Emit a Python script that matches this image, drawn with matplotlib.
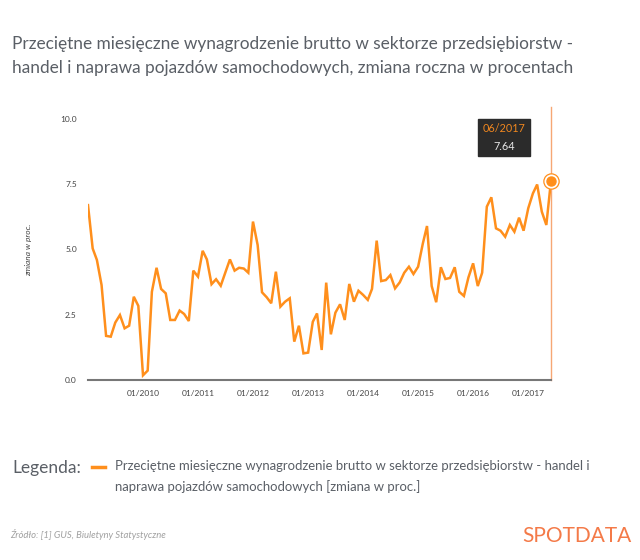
import matplotlib
matplotlib.use('Agg')
import matplotlib.pyplot as plt
import matplotlib.dates as mdates
from matplotlib.lines import Line2D
from matplotlib.offsetbox import TextArea, VPacker, AnnotationBbox
import pandas as pd

#### DATA
start_month = '2009-01-01'
values = [6.70, 5.04, 4.60, 3.64, 1.69, 1.66, 2.20, 2.49, 1.98, 2.08, 3.19, 2.84,
          0.18, 0.36, 3.38, 4.30, 3.49, 3.32, 2.30, 2.30, 2.66, 2.53, 2.26, 4.19,
          3.96, 4.95, 4.62, 3.67, 3.86, 3.61, 4.11, 4.62, 4.19, 4.30, 4.27, 4.11,
          6.07, 5.17, 3.36, 3.17, 2.94, 4.15, 2.81, 3.00, 3.13, 1.47, 2.08, 1.02,
          1.05, 2.23, 2.55, 1.15, 3.73, 1.75, 2.58, 2.90, 2.30, 3.68, 3.00, 3.42,
          3.26, 3.07, 3.49, 5.34, 3.79, 3.83, 4.02, 3.51, 3.74, 4.11, 4.34, 4.06,
          4.34, 5.22, 5.90, 3.60, 2.98, 4.32, 3.87, 3.91, 4.32, 3.38, 3.22, 3.93,
          4.47, 3.60, 4.11, 6.64, 7.00, 5.81, 5.72, 5.49, 5.94, 5.68, 6.22, 5.72,
          6.58, 7.15, 7.49, 6.45, 5.94, 7.64]
y_ticks = [0.0, 2.5, 5.0, 7.5, 10.0]
x_tick_years = [2010, 2011, 2012, 2013, 2014, 2015, 2016, 2017]

title = ('Przeciętne miesięczne wynagrodzenie brutto w sektorze przedsiębiorstw -\n'
         'handel i naprawa pojazdów samochodowych, zmiana roczna w procentach')
legend_text = ('Przeciętne miesięczne wynagrodzenie brutto w sektorze przedsiębiorstw - handel i\n'
               'naprawa pojazdów samochodowych [zmiana w proc.]')
source_text = 'Źródło: [1] GUS, Biuletyny Statystyczne'

dates = pd.date_range(start_month, periods=len(values), freq='MS')

ORANGE = '#ff8f1c'
GREY_TXT = '#5a5f66'

plt.rcParams['font.family'] = ['Lato', 'DejaVu Sans']

fig = plt.figure(figsize=(6.4, 5.6), dpi=100)
ax = fig.add_axes([88 / 640, 1 - 380 / 560, 463 / 640, 261 / 560])

ax.plot(dates, values, color=ORANGE, lw=1.8, solid_joinstyle='miter')

# highlighted last point (hover state)
last_d, last_v = dates[-1], values[-1]
ax.axvline(last_d, ymin=0, ymax=1.046, color='#f6a774', lw=1, clip_on=False, zorder=1)
ax.plot([last_d], [last_v], 'o', ms=11, mfc='white', mec=ORANGE, mew=0.9, clip_on=False, zorder=4)
ax.plot([last_d], [last_v], 'o', ms=6.5, color=ORANGE, clip_on=False, zorder=5)

# tooltip: date in orange, value in light grey, dark box
tip = VPacker(children=[TextArea(last_d.strftime('%m/%Y'),
                                 textprops=dict(color='#f0871f', fontsize=7.8)),
                        TextArea('{:.2f}'.format(last_v),
                                 textprops=dict(color='#e6e6e6', fontsize=7.8))],
              align='center', pad=0, sep=5)
ab = AnnotationBbox(tip, (last_d, last_v), xybox=(-47, 43), boxcoords='offset pixels',
                    frameon=True, pad=0.5, annotation_clip=False,
                    bboxprops=dict(boxstyle='square', fc='#2b2b2b', ec='#2b2b2b'))
ax.add_artist(ab)

ax.set_xlim(dates[0], dates[-1])
ax.set_ylim(0, 10)
ax.set_yticks(y_ticks)
ax.set_yticklabels(['{:.1f}'.format(t) for t in y_ticks])
ax.set_xticks([pd.Timestamp(year=y, month=1, day=1) for y in x_tick_years])
ax.xaxis.set_major_formatter(mdates.DateFormatter('%m/%Y'))
ax.tick_params(axis='both', length=0, labelsize=6, labelcolor='#444444')
ax.tick_params(axis='y', pad=8)
ax.tick_params(axis='x', pad=7)

for s in ['top', 'right', 'left']:
    ax.spines[s].set_visible(False)
ax.spines['bottom'].set_color('#777777')
ax.spines['bottom'].set_linewidth(1.5)

ax.set_ylabel('zmiana w proc.', fontsize=6, style='italic', color='#444444')
ax.yaxis.set_label_coords(-0.12, 0.5)

# title
fig.text(12 / 640, 1 - 36 / 560, title, fontsize=12.4, color=GREY_TXT,
         va='top', ha='left', linespacing=1.65)

# legend
fig.text(12 / 640, 1 - 468 / 560, 'Legenda:', fontsize=12.5, color=GREY_TXT, va='center')
fig.add_artist(Line2D([92 / 640, 105 / 640], [1 - 467 / 560, 1 - 467 / 560],
                      color=ORANGE, lw=2.5))
fig.text(115 / 640, 1 - 460 / 560, legend_text, fontsize=9.45, color=GREY_TXT,
         va='top', linespacing=1.75)

# source and logo
fig.text(10 / 640, 1 - 535 / 560, source_text, fontsize=6.8, color='#a0a0a0',
         style='italic', va='center')
fig.text(632 / 640, 1 - 536 / 560, 'SPOTDATA', fontsize=15, color='#f47a48',
         ha='right', va='center')

fig.savefig('out.png', dpi=100)
